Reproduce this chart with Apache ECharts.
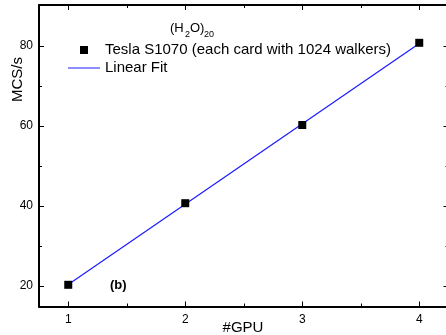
<!DOCTYPE html>
<html><head><meta charset="utf-8">
<script src="https://cdn.jsdelivr.net/npm/echarts@6/dist/echarts.min.js"></script>
<style>html,body{margin:0;padding:0;background:#fff}#c{width:446px;height:335px}</style>
</head><body><div id="c"></div>
<script>
const gpus = [1, 2, 3, 4];
const mcs = [20.3, 40.7, 60.25, 80.8];
const fitX = [1, 4];
const fitY = [20.35, 80.65];
const xTicks = [1, 2, 3, 4];
const xMinor = [1.5, 2.5, 3.5];
const yTicks = [20, 40, 60, 80];
const yMinor = [30, 50, 70];
const seriesNames = ['Tesla S1070 (each card with 1024 walkers)', 'Linear Fit'];
const xName = '#GPU';
const yName = 'MCS/s';

const FONT = 'Liberation Sans, Arial, sans-serif';
const BLUE = '#1a1aff';
const XMIN = 0.75, XMAX = 4.25, YMIN = 14.875, YMAX = 90.25;
const lineStyle = {color: '#000', width: 2};

function xAx(pos, ticks, len, showLine, showLabel) {
  return {
    type: 'value', min: XMIN, max: XMAX, position: pos,
    axisLine: {show: showLine, onZero: false, lineStyle},
    axisTick: {show: true, inside: true, length: len, customValues: ticks, lineStyle: {color: '#000', width: 1}},
    axisLabel: {show: showLabel, customValues: ticks, margin: 7, color: '#000', fontSize: 12, fontFamily: FONT},
    splitLine: {show: false}
  };
}
function yAx(pos, ticks, len, showLine, showLabel) {
  return {
    type: 'value', min: YMIN, max: YMAX, position: pos,
    axisLine: {show: showLine, onZero: false, lineStyle},
    axisTick: {show: true, inside: true, length: len, customValues: ticks, lineStyle: {color: '#000', width: 1}},
    axisLabel: {show: showLabel, customValues: ticks, margin: 6, color: '#000', fontSize: 12, fontFamily: FONT},
    splitLine: {show: false}
  };
}

const chart = echarts.init(document.getElementById('c'), null, {renderer: 'canvas'});
chart.setOption({
  animation: false,
  backgroundColor: '#fff',
  grid: {left: 39, right: -2.5, top: 5, bottom: 28.5, containLabel: false, outerBoundsMode: 'none'},
  xAxis: [
    xAx('bottom', xTicks, 5, true, true),
    xAx('bottom', xMinor, 3, false, false),
    xAx('top', xTicks, 5, true, false),
    xAx('top', xMinor, 3, false, false)
  ],
  yAxis: [
    yAx('left', yTicks, 5, true, true),
    yAx('left', yMinor, 3, false, false),
    yAx('right', yTicks, 5, true, false),
    yAx('right', yMinor, 3, false, false)
  ],
  legend: {
    orient: 'vertical', left: 68, top: 42, padding: 0, itemWidth: 32, itemHeight: 8, itemGap: 2,
    symbolKeepAspect: true,
    textStyle: {color: '#000', fontSize: 15, fontFamily: FONT, lineHeight: 16},
    data: [
      {name: seriesNames[0], icon: 'path://M0,0h1v1h-1z', itemStyle: {color: '#000', opacity: 1}},
      {name: seriesNames[1], icon: 'path://M0,0h32v1h-32z',
        itemStyle: {color: BLUE, borderColor: BLUE, borderWidth: 0, opacity: 1},
        lineStyle: {color: BLUE, width: 0}}
    ]
  },
  graphic: [
    {type: 'text', left: 170, top: 22, style: {text: '(H', fontSize: 13, fontFamily: FONT, fill: '#000'}},
    {type: 'text', left: 185, top: 30, style: {text: '2', fontSize: 9, fontFamily: FONT, fill: '#000'}},
    {type: 'text', left: 190, top: 22, style: {text: 'O)', fontSize: 13, fontFamily: FONT, fill: '#000'}},
    {type: 'text', left: 204, top: 30, style: {text: '20', fontSize: 9, fontFamily: FONT, fill: '#000'}},
    {type: 'text', left: 110, top: 279, style: {text: '(b)', fontSize: 13, fontWeight: 'bold', fontFamily: FONT, fill: '#000'}},
    {type: 'text', x: 10, y: 102, rotation: Math.PI / 2, style: {text: yName, fontSize: 15, fontFamily: FONT, fill: '#000'}},
    {type: 'text', x: 243, y: 328, style: {text: xName, fontSize: 15, fontFamily: FONT, fill: '#000', align: 'center', verticalAlign: 'middle'}}
  ],
  series: [
    {name: seriesNames[1], type: 'line', xAxisIndex: 0, yAxisIndex: 0, symbol: 'none',
      lineStyle: {color: BLUE, width: 1.2}, itemStyle: {color: BLUE},
      data: fitX.map((x, i) => [x, fitY[i]]), z: 2},
    {name: seriesNames[0], type: 'scatter', xAxisIndex: 0, yAxisIndex: 0, symbol: 'rect', symbolSize: 8,
      itemStyle: {color: '#000', opacity: 1}, data: gpus.map((x, i) => [x, mcs[i]]), z: 3}
  ]
});
</script></body></html>
